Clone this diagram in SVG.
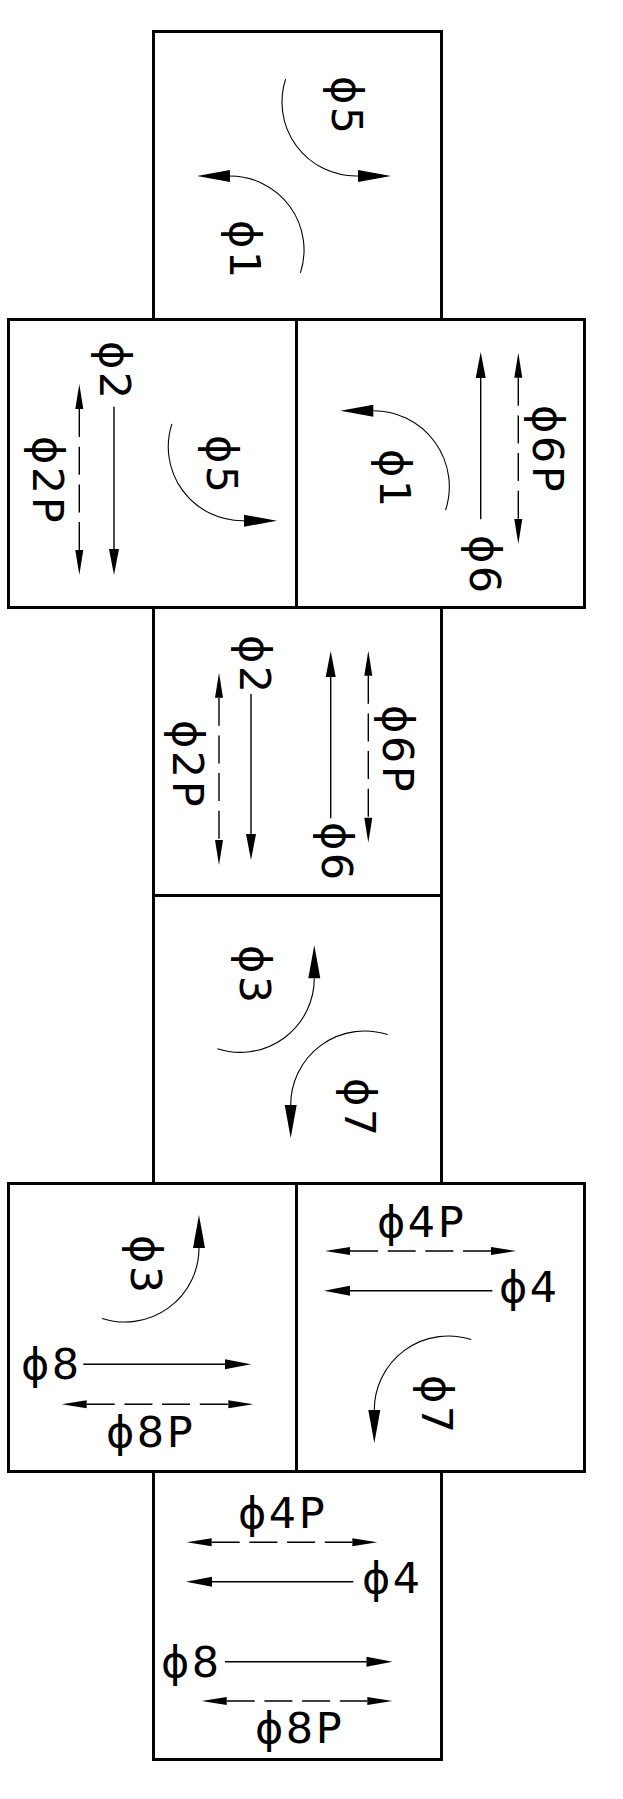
<svg xmlns="http://www.w3.org/2000/svg" width="623" height="1799" viewBox="0 0 623 1799">
<style>
  .box { fill: none; stroke: #000; stroke-width: 3; }
  .lbl { font-family: "DejaVu Sans", "Liberation Sans", sans-serif; font-size: 43px; fill: #000; letter-spacing: 2.5px; }
  .arc { fill: none; stroke: #000; stroke-width: 1.1; marker-end: url(#arcHead); }
  .solid { fill: none; stroke: #000; stroke-width: 1.4; marker-end: url(#solidHead); }
  .dash { fill: none; stroke: #000; stroke-width: 1.4; stroke-dasharray: 28 9.7; marker-start: url(#dashHead); marker-end: url(#dashHead); }
</style>
<defs>
  <marker id="arcHead" markerUnits="userSpaceOnUse" viewBox="0 -7 34 14" refX="0" refY="0" markerWidth="34" markerHeight="14" orient="auto" overflow="visible">
    <path d="M0,-6 L33,0 L0,6 Z" fill="#000"/>
  </marker>
  <marker id="solidHead" markerUnits="userSpaceOnUse" viewBox="0 -6 27 12" refX="0" refY="0" markerWidth="27" markerHeight="12" orient="auto" overflow="visible">
    <path d="M0,-5 L26,0 L0,5 Z" fill="#000"/>
  </marker>
  <marker id="dashHead" markerUnits="userSpaceOnUse" viewBox="0 -5 26 10" refX="0" refY="0" markerWidth="26" markerHeight="10" orient="auto-start-reverse" overflow="visible">
    <path d="M0,-4 L25,0 L0,4 Z" fill="#000"/>
  </marker>
</defs>
<rect width="623" height="1799" fill="#fff"/>

<g id="box-top">
  <rect class="box" x="153.5" y="31.5" width="288" height="288"/>
  <text class="lbl" transform="translate(332,76) rotate(90)">ϕ5</text>
  <text class="lbl" transform="translate(230,220) rotate(90)">ϕ1</text>
</g>
<g id="box-r2-left">
  <rect class="box" x="8.5" y="319.5" width="288" height="288"/>
  <text class="lbl" transform="translate(100,341) rotate(90)">ϕ2</text>
  <text class="lbl" transform="translate(33,436) rotate(90)">ϕ2P</text>
  <text class="lbl" transform="translate(207,435) rotate(90)">ϕ5</text>
</g>
<g id="box-r2-right">
  <rect class="box" x="296.5" y="319.5" width="288" height="288"/>
  <text class="lbl" transform="translate(380,449) rotate(90)">ϕ1</text>
  <text class="lbl" transform="translate(470,535) rotate(90)">ϕ6</text>
  <text class="lbl" transform="translate(533,405) rotate(90)">ϕ6P</text>
</g>
<g id="box-r3">
  <rect class="box" x="153.5" y="607.5" width="288" height="288"/>
  <text class="lbl" transform="translate(240,635) rotate(90)">ϕ2</text>
  <text class="lbl" transform="translate(173,720) rotate(90)">ϕ2P</text>
  <text class="lbl" transform="translate(322,822) rotate(90)">ϕ6</text>
  <text class="lbl" transform="translate(383,705) rotate(90)">ϕ6P</text>
</g>
<g id="box-r4">
  <rect class="box" x="153.5" y="895.5" width="288" height="288"/>
  <text class="lbl" transform="translate(240,945) rotate(90)">ϕ3</text>
  <text class="lbl" transform="translate(345,1078) rotate(90)">ϕ7</text>
</g>
<g id="box-r5-left">
  <rect class="box" x="8.5" y="1183.5" width="288" height="288"/>
  <text class="lbl" transform="translate(131,1235) rotate(90)">ϕ3</text>
  <text class="lbl" x="21" y="1379">ϕ8</text>
  <text class="lbl" x="106" y="1447">ϕ8P</text>
</g>
<g id="box-r5-right">
  <rect class="box" x="296.5" y="1183.5" width="288" height="288"/>
  <text class="lbl" x="377" y="1237">ϕ4P</text>
  <text class="lbl" x="499" y="1302">ϕ4</text>
  <text class="lbl" transform="translate(422,1375) rotate(90)">ϕ7</text>
</g>
<g id="box-r6">
  <rect class="box" x="153.5" y="1471.5" width="288" height="288"/>
  <text class="lbl" x="238" y="1528">ϕ4P</text>
  <text class="lbl" x="362" y="1593">ϕ4</text>
  <text class="lbl" x="161" y="1677">ϕ8</text>
  <text class="lbl" x="255" y="1743">ϕ8P</text>
</g>

<g id="connectors">
  <!-- top box -->
  <path class="arc" d="M285.6,79.1 A74,74 0 0 0 356,176 L358,176"/>
  <path class="arc" d="M300.4,272.9 A74,74 0 0 0 230,176"/>
  <!-- row 2 left -->
  <path class="solid" d="M114,406.7 L114,549"/>
  <path class="dash" d="M79.3,409 L79.3,550"/>
  <path class="arc" d="M171.9,423.8 A74,74 0 0 0 242.3,520.7 L244,520.7"/>
  <!-- row 2 right -->
  <path class="arc" d="M445.6,510.2 A76,76 0 0 0 373.3,410.7"/>
  <path class="solid" d="M480.7,519.3 L480.7,378"/>
  <path class="dash" d="M518.3,377.7 L518.3,519"/>
  <!-- row 3 -->
  <path class="solid" d="M251,694 L251,834"/>
  <path class="dash" d="M219,697.7 L219,840"/>
  <path class="solid" d="M330.7,818.3 L330.7,677"/>
  <path class="dash" d="M368.3,675.7 L368.3,817.7"/>
  <!-- row 4 -->
  <path class="arc" d="M217.4,1048.7 A74,74 0 0 0 314.3,978.3"/>
  <path class="arc" d="M387.6,1034.6 A74,74 0 0 0 290.7,1105"/>
  <!-- row 5 left -->
  <path class="arc" d="M102.1,1318.4 A74,74 0 0 0 199,1248"/>
  <path class="solid" d="M83.3,1364.3 L225,1364.3"/>
  <path class="dash" d="M86.7,1404.3 L228.3,1404.3"/>
  <!-- row 5 right -->
  <path class="dash" d="M350,1251 L491,1251"/>
  <path class="solid" d="M492.3,1290.7 L350,1290.7"/>
  <path class="arc" d="M471.2,1339.6 A74,74 0 0 0 374.3,1410"/>
  <!-- row 6 -->
  <path class="dash" d="M211.7,1542.3 L352.3,1542.3"/>
  <path class="solid" d="M353.3,1581.7 L212,1581.7"/>
  <path class="solid" d="M225,1661.7 L366.5,1661.7"/>
  <path class="dash" d="M226.7,1701 L367.3,1701"/>
</g>
</svg>
